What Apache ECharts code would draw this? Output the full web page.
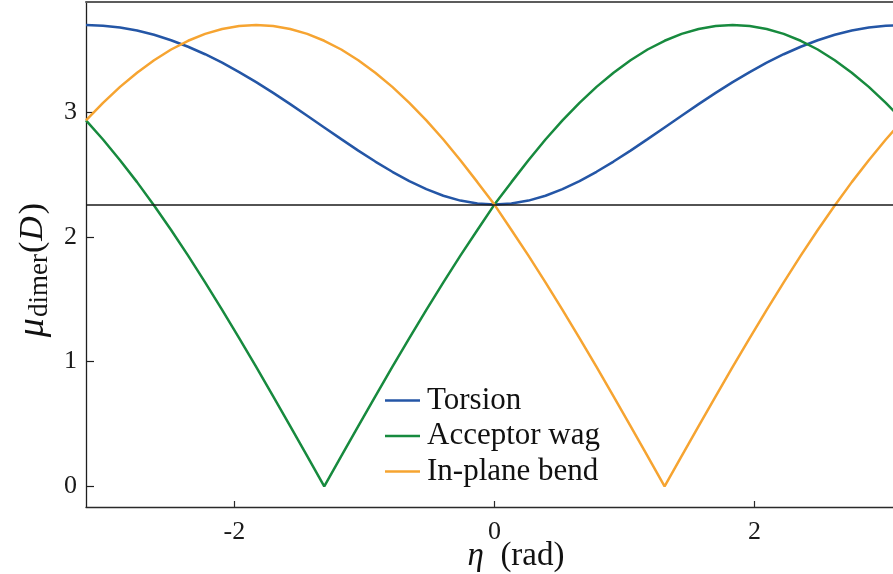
<!DOCTYPE html>
<html>
<head>
<meta charset="utf-8">
<script src="https://cdn.jsdelivr.net/npm/echarts@6/dist/echarts.min.js"></script>
<style>
  html, body { margin: 0; padding: 0; background: #ffffff; }
  #chart { width: 893px; height: 574px; }
</style>
</head>
<body>
<div id="chart"></div>
<script>
// Dimer dipole moment (Debye) against the intermolecular angle eta (rad)
const eta = [
  -3.1416, -3.0107, -2.8798, -2.7489, -2.6180, -2.4871, -2.3562, -2.2253, -2.0944, -1.9635,
  -1.8326, -1.7017, -1.5708, -1.4399, -1.3090, -1.1781, -1.0472, -0.9163, -0.7854, -0.6545,
  -0.5236, -0.3927, -0.2618, -0.1309, 0, 0.1309, 0.2618, 0.3927, 0.5236, 0.6545,
  0.7854, 0.9163, 1.0472, 1.1781, 1.3090, 1.4399, 1.5708, 1.7017, 1.8326, 1.9635,
  2.0944, 2.2253, 2.3562, 2.4871, 2.6180, 2.7489, 2.8798, 3.0107, 3.1416
];
const torsion = [
  3.700, 3.695, 3.680, 3.656, 3.622, 3.578, 3.526, 3.466, 3.398, 3.323,
  3.242, 3.156, 3.066, 2.973, 2.879, 2.785, 2.693, 2.605, 2.523, 2.448,
  2.384, 2.331, 2.292, 2.268, 2.260, 2.268, 2.292, 2.331, 2.384, 2.448,
  2.523, 2.605, 2.693, 2.785, 2.879, 2.973, 3.066, 3.156, 3.242, 3.323,
  3.398, 3.466, 3.526, 3.578, 3.622, 3.656, 3.680, 3.695, 3.700
];
const acceptorWag = [
  2.935, 2.782, 2.616, 2.440, 2.252, 2.056, 1.850, 1.636, 1.416, 1.189,
  0.958, 0.722, 0.483, 0.242, 0.000, 0.242, 0.483, 0.722, 0.958, 1.189,
  1.416, 1.636, 1.850, 2.056, 2.260, 2.440, 2.616, 2.782, 2.935, 3.076,
  3.204, 3.318, 3.418, 3.504, 3.574, 3.629, 3.668, 3.692, 3.700, 3.692,
  3.668, 3.629, 3.574, 3.504, 3.418, 3.318, 3.204, 3.076, 2.935
];
const inPlaneBend = [
  2.935, 3.076, 3.204, 3.318, 3.418, 3.504, 3.574, 3.629, 3.668, 3.692,
  3.700, 3.692, 3.668, 3.629, 3.574, 3.504, 3.418, 3.318, 3.204, 3.076,
  2.935, 2.782, 2.616, 2.440, 2.260, 2.056, 1.850, 1.636, 1.416, 1.189,
  0.958, 0.722, 0.483, 0.242, 0.000, 0.242, 0.483, 0.722, 0.958, 1.189,
  1.416, 1.636, 1.850, 2.056, 2.252, 2.440, 2.616, 2.782, 2.935
];
const seriesNames = ['Torsion', 'Acceptor wag', 'In-plane bend'];
const referenceLevel = [2.26];
const xTicks = [-2, 0, 2];
const yTicks = [0, 1, 2, 3];
// the visible window stops a little short of +pi on the right
const xRange = [-3.1416, 3.066];
const yRange = [-0.166, 3.885];

const colors = ['#2456a6', '#178a3e', '#f6a431'];
const serif = "'Liberation Serif', 'DejaVu Serif', 'Times New Roman', serif";

function pairs(xs, ys) {
  return xs.map((x, i) => [x, ys[i]]);
}

const chart = echarts.init(document.getElementById('chart'), null, { renderer: 'canvas' });

const curveSeries = [torsion, acceptorWag, inPlaneBend].map((vals, k) => ({
  name: seriesNames[k],
  type: 'line',
  data: pairs(eta, vals),
  symbol: 'none',
  showSymbol: false,
  smooth: false,
  clip: true,
  z: 3,
  lineStyle: { color: colors[k], width: 2.5 },
  itemStyle: { color: colors[k] }
}));

chart.setOption({
  animation: false,
  backgroundColor: '#ffffff',
  grid: { left: 86, top: 2, right: 0, bottom: 67, containLabel: false },
  xAxis: [
    {
      type: 'value',
      min: xRange[0],
      max: xRange[1],
      axisLine: { show: true, onZero: false, lineStyle: { color: '#2a2a2a', width: 1.3 } },
      axisTick: { show: true, inside: true, length: 6, customValues: xTicks, lineStyle: { color: '#2a2a2a', width: 1.2 } },
      axisLabel: { customValues: xTicks, margin: 12, fontSize: 26, fontFamily: serif, color: '#1a1a1a' },
      splitLine: { show: false }
    },
    {
      type: 'value',
      position: 'top',
      min: xRange[0],
      max: xRange[1],
      axisLine: { show: true, onZero: false, lineStyle: { color: '#5c5c5c', width: 2 } },
      axisTick: { show: false },
      axisLabel: { show: false },
      splitLine: { show: false }
    }
  ],
  yAxis: {
    type: 'value',
    min: yRange[0],
    max: yRange[1],
    axisLine: { show: true, onZero: false, lineStyle: { color: '#1e1e1e', width: 1.3 } },
    axisTick: { show: true, inside: true, length: 8, customValues: yTicks, lineStyle: { color: '#1e1e1e', width: 1.2 } },
    axisLabel: { customValues: yTicks, margin: 9, fontSize: 26, fontFamily: serif, color: '#1a1a1a' },
    splitLine: { show: false }
  },
  legend: {
    orient: 'vertical',
    left: 385,
    top: 385,
    padding: 0,
    icon: 'rect',
    itemWidth: 35,
    itemHeight: 2.5,
    itemGap: 4.5,
    data: seriesNames,
    textStyle: { fontFamily: serif, fontSize: 31, color: '#111111', lineHeight: 31, padding: [0, 0, 0, 2] }
  },
  series: [
    {
      name: 'reference',
      type: 'line',
      data: [],
      z: 1,
      markLine: {
        silent: true,
        symbol: 'none',
        label: { show: false },
        lineStyle: { color: '#1a1a1a', width: 1.5, type: 'solid' },
        data: referenceLevel.map(v => ({ yAxis: v }))
      }
    }
  ].concat(curveSeries),
  graphic: [
    {
      type: 'text',
      x: 33,
      y: 270,
      rotation: Math.PI / 2,
      style: {
        text: '{mu|μ}{sub|dimer}{p|(}{it|D}{p|)}',
        align: 'center',
        verticalAlign: 'middle',
        fill: '#111111',
        rich: {
          mu: { fontFamily: serif, fontStyle: 'italic', fontSize: 38, fill: '#111111', padding: [0, 1, 0, 0] },
          sub: { fontFamily: serif, fontSize: 27, fill: '#111111', padding: [14, 1, 0, 0] },
          p: { fontFamily: serif, fontSize: 34, fill: '#111111' },
          it: { fontFamily: serif, fontStyle: 'italic', fontSize: 34, fill: '#111111', padding: [0, 2, 0, 1] }
        }
      }
    },
    {
      type: 'text',
      x: 516,
      y: 556,
      style: {
        text: '{it|η}  (rad)',
        align: 'center',
        verticalAlign: 'middle',
        fontFamily: serif,
        fontSize: 33,
        fill: '#111111',
        rich: {
          it: { fontFamily: serif, fontStyle: 'italic', fontSize: 33, fill: '#111111' }
        }
      }
    }
  ]
});
</script>
</body>
</html>
